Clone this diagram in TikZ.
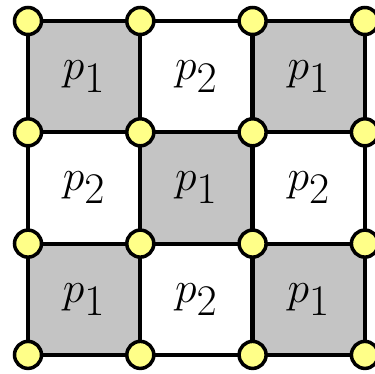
\documentclass[tikz,border=0pt]{standalone}
\usepackage{amsmath}

\definecolor{cellgray}{RGB}{196,196,196}
\definecolor{vertexyellow}{RGB}{255,255,136}

\tikzset{
    cell/.style={
        rectangle,
        inner sep=0pt,
        minimum width=2.246cm,
        minimum height=2.226cm,
        font=\fontsize{38}{44}\selectfont
    },
    dark cell/.style={cell, fill=cellgray},
    light cell/.style={cell, fill=white},
    grid line/.style={draw, line width=2.4pt},
    vertex/.style={
        circle,
        draw,
        fill=vertexyellow,
        line width=2pt,
        inner sep=0pt,
        minimum size=0.54cm
    }
}

\begin{document}
\begin{tikzpicture}[x=0.02cm, y=-0.02cm]

\useasboundingbox (0,0) rectangle (375,373);

%% -- Corner points ------------------------------------------------------------
\foreach \i in {0,...,3}
    \foreach \j in {0,...,3}
        \coordinate (c-\i-\j) at ({28+112.3*\i}, {21+111.3*\j});

%% -- Cells (checkerboard) ----------------------------------------------------
\foreach \i in {0,1,2}
    \foreach \j in {0,1,2} {
        \pgfmathtruncatemacro{\parity}{mod(\i+\j,2)}
        \ifnum\parity=0
            \node[dark cell] (cell-\i-\j) at ({84.15+112.3*\i}, {76.65+111.3*\j}) {$p_1$};
        \else
            \node[light cell] (cell-\i-\j) at ({84.15+112.3*\i}, {76.65+111.3*\j}) {$p_2$};
        \fi
    }

%% -- Grid lines --------------------------------------------------------------
\foreach \k in {0,...,3} {
    \draw[grid line] (c-0-\k) -- (c-3-\k);
    \draw[grid line] (c-\k-0) -- (c-\k-3);
}

%% -- Vertices ----------------------------------------------------------------
\foreach \i in {0,...,3}
    \foreach \j in {0,...,3}
        \node[vertex] (v-\i-\j) at (c-\i-\j) {};

\end{tikzpicture}
\end{document}
